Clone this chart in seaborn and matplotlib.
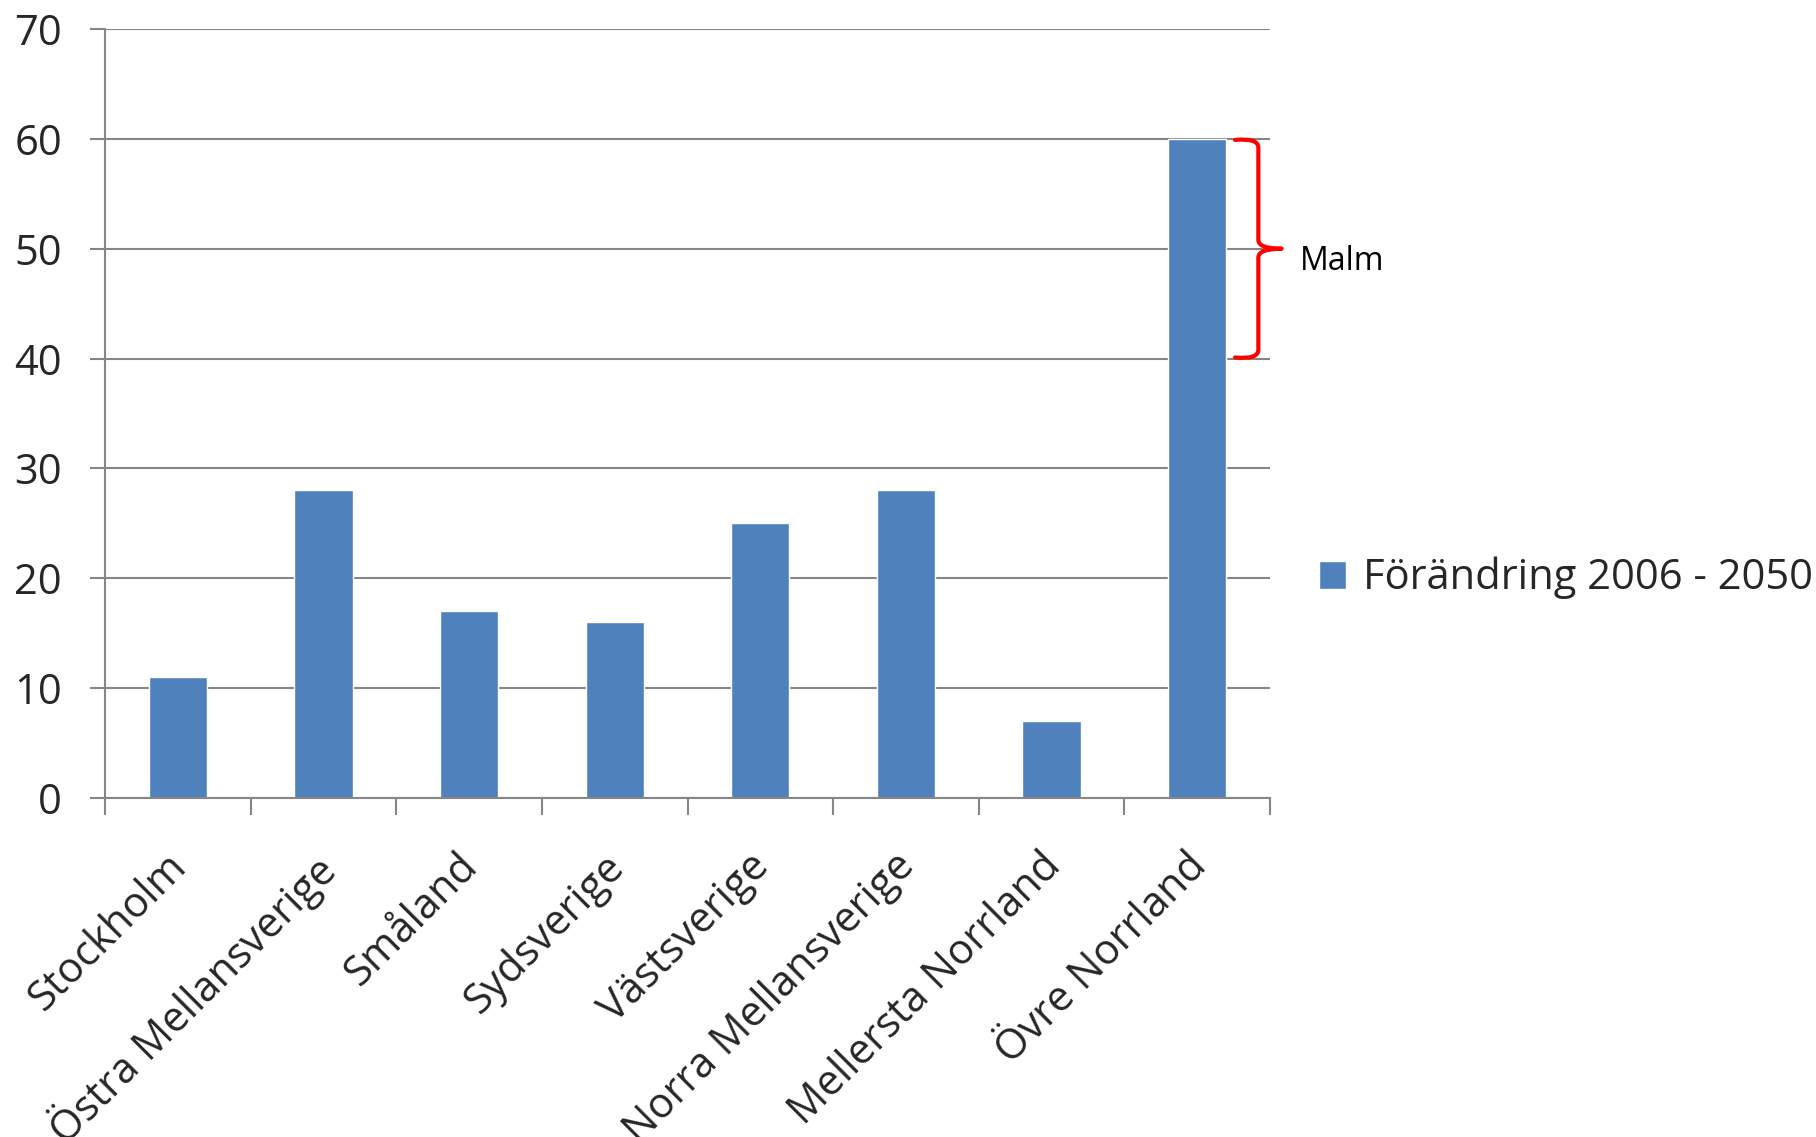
import matplotlib
matplotlib.use("Agg")
import matplotlib.pyplot as plt
import matplotlib.transforms as mtransforms
import seaborn as sns
import pandas as pd
from matplotlib.path import Path
from matplotlib.patches import PathPatch

regions = ["Stockholm", "Östra Mellansverige", "Småland", "Sydsverige",
           "Västsverige", "Norra Mellansverige", "Mellersta Norrland", "Övre Norrland"]
values = [11, 28, 17, 16, 25, 28, 7, 60]
series_name = "Förändring 2006 - 2050"
y_ticks = [0, 10, 20, 30, 40, 50, 60, 70]
annotation_text = "Malm"

sns.set_theme(style="white")
plt.rcParams['font.family'] = ['Open Sans', 'DejaVu Sans']

df = pd.DataFrame({"region": regions, "value": values, "series": series_name})

fig = plt.figure(figsize=(18.16, 11.37), dpi=100)
ax = fig.add_axes([105/1816, 1 - 798/1137, (1270-105)/1816, (798-29)/1137])

grid_c = "#868686"
bar_c = "#4F81BD"

sns.barplot(data=df, x="region", y="value", hue="series", palette=[bar_c],
            width=0.4, ax=ax, saturation=1, legend=True)

ax.set_xlim(-0.5, len(regions) - 0.5)
ax.set_ylim(0, 70)
ax.set_yticks(y_ticks)
ax.set_yticklabels([str(t) for t in y_ticks], fontsize=30)
ax.yaxis.grid(True, color=grid_c, linewidth=1.5)
ax.set_axisbelow(True)
ax.tick_params(axis='y', length=11, width=1.5, color=grid_c, pad=20, left=True)
ax.set_xlabel("")
ax.set_ylabel("")

# x tick labels at category centers, tick marks at boundaries
ax.set_xticks(range(len(regions)))
ax.set_xticklabels(regions, fontsize=30, rotation=45, ha='right', va='top',
                   rotation_mode='anchor')
ax.tick_params(axis='x', which='major', length=0, pad=34)
shift = mtransforms.ScaledTranslation(-12/100, 0, fig.dpi_scale_trans)
for lbl in ax.get_xticklabels():
    lbl.set_transform(lbl.get_transform() + shift)
ax.set_xticks([i - 0.5 for i in range(len(regions) + 1)], minor=True)
ax.tick_params(axis='x', which='minor', length=12, width=1.5, color=grid_c, bottom=True)

for s in ["top", "right"]:
    ax.spines[s].set_visible(False)
for s in ["left", "bottom"]:
    ax.spines[s].set_color(grid_c)
    ax.spines[s].set_linewidth(1.5)

# legend
leg = ax.get_legend()
handles = leg.legend_handles
leg.remove()
fig.legend(handles, [series_name], loc='center left',
           bbox_to_anchor=(1319/1816, 1 - 578/1137), frameon=False,
           fontsize=30, handlelength=0.65, handleheight=0.65, handletextpad=0.4,
           borderpad=0, borderaxespad=0)

# curly bracket annotation
xl, xm, xt = 7.26, 7.42, 7.58
verts = [(xl, 59.9), (xm, 60.1), (xm, 59.2),
         (xm, 50.8),
         (xm, 50.0), (xt, 50.0),
         (xm, 50.0), (xm, 49.2),
         (xm, 40.8),
         (xm, 39.9), (xl, 40.1)]
codes = [Path.MOVETO, Path.CURVE3, Path.CURVE3,
         Path.LINETO,
         Path.CURVE3, Path.CURVE3,
         Path.CURVE3, Path.CURVE3,
         Path.LINETO,
         Path.CURVE3, Path.CURVE3]
patch = PathPatch(Path(verts, codes), fill=False, edgecolor="#FF0000", linewidth=3,
                  clip_on=False, capstyle='round', joinstyle='round')
ax.add_patch(patch)
ax.text(1300/1816, 1 - 262/1137, annotation_text, transform=fig.transFigure,
        fontsize=23, ha='left', va='center', color='black')

fig.savefig("out.png", dpi=100)
